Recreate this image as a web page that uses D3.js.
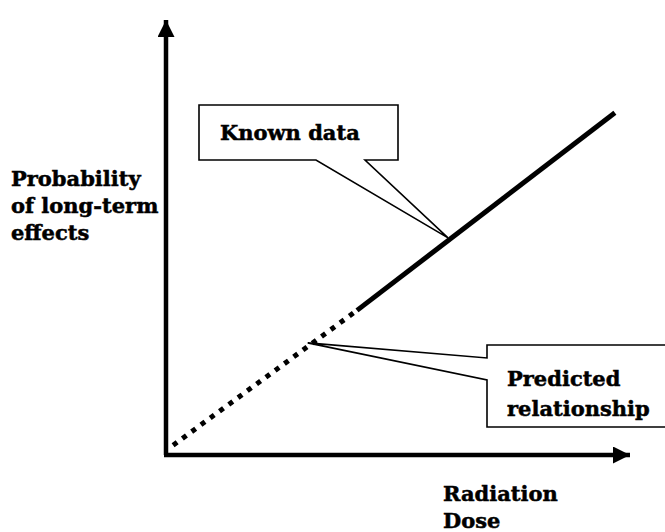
<!DOCTYPE html>
<html>
<head>
<meta charset="utf-8">
<script src="https://cdn.jsdelivr.net/npm/d3@7"></script>
<style>
  html, body { margin: 0; padding: 0; background: #fff; overflow: hidden; }
  svg { display: block; }
  text { font-family: "DejaVu Serif", serif; font-weight: bold; fill: #000; stroke: #000; stroke-width: 0.5px; }
</style>
</head>
<body>
<svg id="chart" width="665" height="532"></svg>
<script>
// ---- data (conceptual chart, values in % of axis length) ----
const predicted = [ {dose: 1.5, prob: 2.2}, {dose: 40.3, prob: 32.5} ];
const known     = [ {dose: 40.3, prob: 32.5}, {dose: 94.7, prob: 76.9} ];
const xLabel = ["Radiation", "Dose"];
const yLabel = ["Probability", "of long-term", "effects"];
const knownLabel = ["Known data"];
const predLabel = ["Predicted", "relationship"];
const knownPointerAt = {dose: 59.5, prob: 48.8};
const predPointerAt = {dose: 29.9, prob: 25.2};

const svg = d3.select("#chart");
const x = d3.scaleLinear().domain([0, 100]).range([166, 640]);
const y = d3.scaleLinear().domain([0, 100]).range([455, 10]);

// arrow markers
const defs = svg.append("defs");
defs.append("marker").attr("id", "arrow").attr("viewBox", "0 0 10 10")
  .attr("refX", 10).attr("refY", 5).attr("markerUnits", "userSpaceOnUse")
  .attr("markerWidth", 17).attr("markerHeight", 17).attr("orient", "auto")
  .append("path").attr("d", "M0,0 L10,5 L0,10 Z").attr("fill", "#000");

// axes
svg.append("line").attr("x1", x(0)).attr("y1", y(0)).attr("x2", x(0)).attr("y2", y(100) + 10)
  .attr("stroke", "#000").attr("stroke-width", 4.5).attr("marker-end", "url(#arrow)");
svg.append("line").attr("x1", x(0) - 2).attr("y1", y(0)).attr("x2", x(100) - 10).attr("y2", y(0))
  .attr("stroke", "#000").attr("stroke-width", 4.5).attr("marker-end", "url(#arrow)");

const line = d3.line().x(d => x(d.dose)).y(d => y(d.prob));
svg.append("path").datum(predicted).attr("d", line).attr("fill", "none")
  .attr("stroke", "#000").attr("stroke-width", 5).attr("stroke-dasharray", "5,6.5");
svg.append("path").datum(known).attr("d", line).attr("fill", "none")
  .attr("stroke", "#000").attr("stroke-width", 5);

// callouts
function callout(pts, closed) {
  const d = "M" + pts.map(p => p.join(",")).join("L");
  svg.append("path").attr("d", d + "Z").attr("fill", "#fff").attr("stroke", "none");
  svg.append("path").attr("d", closed ? d + "Z" : d)
    .attr("fill", "none").attr("stroke", "#000").attr("stroke-width", 1.6)
    .attr("stroke-linejoin", "miter");
}
const kt = [x(knownPointerAt.dose), y(knownPointerAt.prob)];
callout([[199,105],[398,105],[398,160],[365,160],kt,[316,160],[199,160]], true);
const pt = [x(predPointerAt.dose), y(predPointerAt.prob)];
callout([[680,345],[487,345],[487,358],pt,[487,380],[487,427],[680,427]], false);

function label(lines, x0, y0, dy) {
  const t = svg.append("text").attr("font-size", 21);
  lines.forEach((s, i) => t.append("tspan").attr("x", x0).attr("y", y0 + i * dy).text(s));
}
label(knownLabel, 220, 140, 28);
label(predLabel, 507, 386, 30);
label(yLabel, 11, 186, 27);
label(xLabel, 443, 501, 27);
</script>
</body>
</html>
